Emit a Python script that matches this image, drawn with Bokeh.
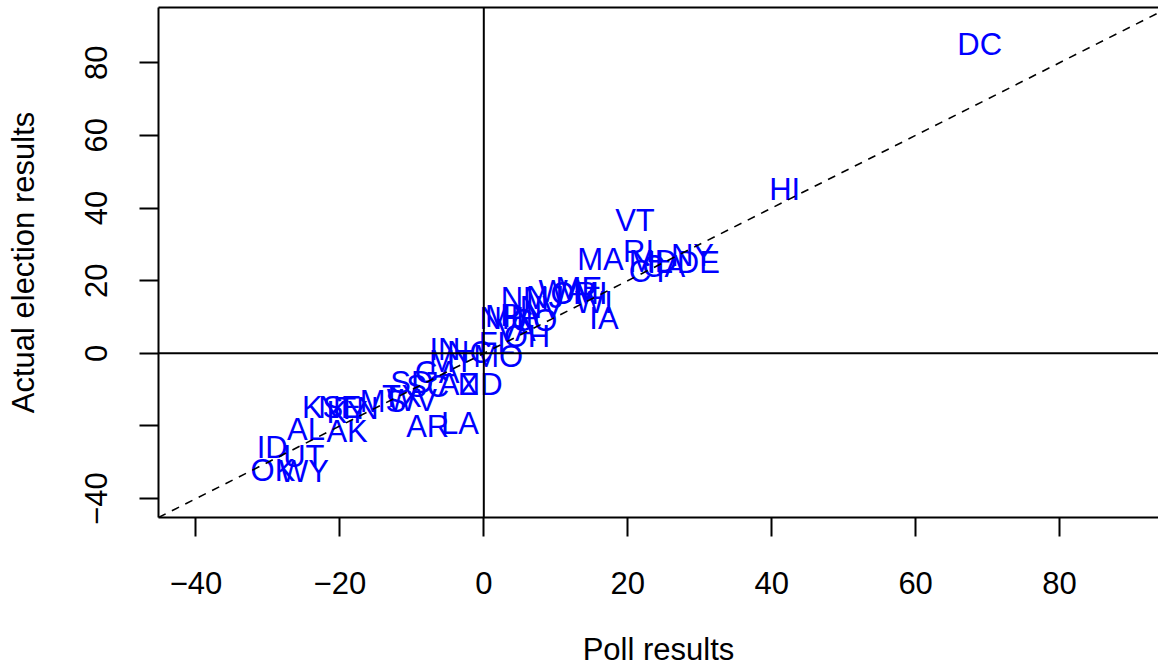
from bokeh.plotting import figure
from bokeh.models import Range1d, LinearAxis, Span, Slope, FixedTicker, ColumnDataSource
from bokeh.core.properties import value
from bokeh.embed import file_html
from bokeh.resources import INLINE

states = ["DC", "HI", "VT", "RI", "NY", "MA", "MD", "IL", "DE", "CA", "CT",
          "WA", "ME", "OR", "MI", "NJ", "NM", "WI", "NV", "PA", "MN", "NH", "IA", "CO", "VA", "OH", "FL",
          "IN", "NC", "MO", "MT", "GA",
          "SD", "SC", "AZ", "ND", "TX", "WV", "MS", "KS", "NE", "TN", "KY", "LA", "AR", "AL", "AK",
          "ID", "UT", "OK", "WY"]
poll = [68.9, 41.8, 21.0, 21.5, 29.0, 16.2, 23.5, 24.5, 29.8, 25.0, 23.0,
        11.0, 13.2, 12.5, 14.8, 8.5, 5.7, 15.3, 8.0, 5.0, 3.5, 2.5, 16.7, 7.0, 4.5, 6.0, 1.8,
        -5.4, -2.0, 2.0, -4.5, -6.5,
        -10.0, -7.8, -3.5, -0.5, -11.4, -10.0, -14.0, -22.4, -20.0, -17.5, -19.0, -3.3, -7.8, -24.7, -19.0,
        -29.4, -25.0, -29.3, -25.0]
actual = [85.0, 45.0, 36.7, 28.0, 27.0, 25.8, 25.4, 25.1, 25.0, 24.0, 22.6,
          17.1, 17.8, 16.4, 16.4, 15.5, 15.1, 14.0, 12.5, 10.3, 10.2, 9.6, 9.5, 9.0, 6.3, 4.6, 2.8,
          1.0, 0.3, -1.0, -2.3, -5.2,
          -8.0, -9.0, -8.5, -8.6, -11.8, -13.1, -13.3, -15.0, -14.9, -15.1, -16.2, -19.3, -20.1, -21.0, -21.5,
          -26.0, -28.5, -32.3, -32.5]

x_ticks = [-40, -20, 0, 20, 40, 60, 80]
y_ticks = [-40, -20, 0, 20, 40, 60, 80]
y_hidden_labels = {-20: ""}

FONT = "Liberation Sans"
FS = "31px"

frame_w, frame_h = 1000, 510
x_start = -45.2
x_end = x_start + frame_w / 7.197
y_start, y_end = -45.2, 95.2

p = figure(frame_width=frame_w, frame_height=frame_h,
           x_range=Range1d(x_start, x_end), y_range=Range1d(y_start, y_end),
           output_backend="svg", toolbar_location=None,
           x_axis_label="Poll results", y_axis_label="Actual election results",
           min_border_left=158, min_border_right=0, min_border_top=7, min_border_bottom=149)
p.outline_line_color = None
p.grid.visible = False
p.background_fill_color = "white"
p.border_fill_color = "white"

for ax in (p.xaxis[0], p.yaxis[0]):
    ax.axis_line_width = 2
    ax.axis_line_color = "black"
    ax.major_tick_line_width = 2
    ax.major_tick_line_color = "black"
    ax.major_tick_out = 19
    ax.major_tick_in = 0
    ax.minor_tick_line_color = None
    ax.major_label_text_font = FONT
    ax.major_label_text_font_size = FS
    ax.major_label_text_color = "black"
    ax.axis_label_text_font = FONT
    ax.axis_label_text_font_size = FS
    ax.axis_label_text_font_style = "normal"
    ax.axis_label_text_color = "black"

p.xaxis[0].ticker = FixedTicker(ticks=x_ticks)
p.yaxis[0].ticker = FixedTicker(ticks=y_ticks)
p.yaxis[0].major_label_overrides = y_hidden_labels
p.yaxis[0].major_label_orientation = "vertical"
p.xaxis[0].major_label_standoff = 35
p.xaxis[0].axis_label_standoff = 35
p.yaxis[0].major_label_standoff = 32
p.yaxis[0].axis_label_standoff = 42

top = LinearAxis(ticker=FixedTicker(ticks=[]), axis_line_width=2, axis_line_color="black",
                 major_tick_out=0, major_tick_in=0, minor_tick_line_color=None,
                 major_label_text_font_size="0px", major_label_standoff=0)
p.add_layout(top, "above")

p.add_layout(Span(location=0, dimension="width", line_color="black", line_width=2))
p.add_layout(Span(location=0, dimension="height", line_color="black", line_width=2))
p.add_layout(Slope(gradient=1, y_intercept=0, line_color="black", line_width=1.6, line_dash="8 7"))

src = ColumnDataSource(dict(x=poll, y=actual, t=states))
p.text(x="x", y="y", text="t", source=src, text_color="#0000FF",
       text_font=value(FONT), text_font_size=value(FS),
       text_align="center", text_baseline="middle")

open("out.html", "w").write(file_html(p, INLINE))
